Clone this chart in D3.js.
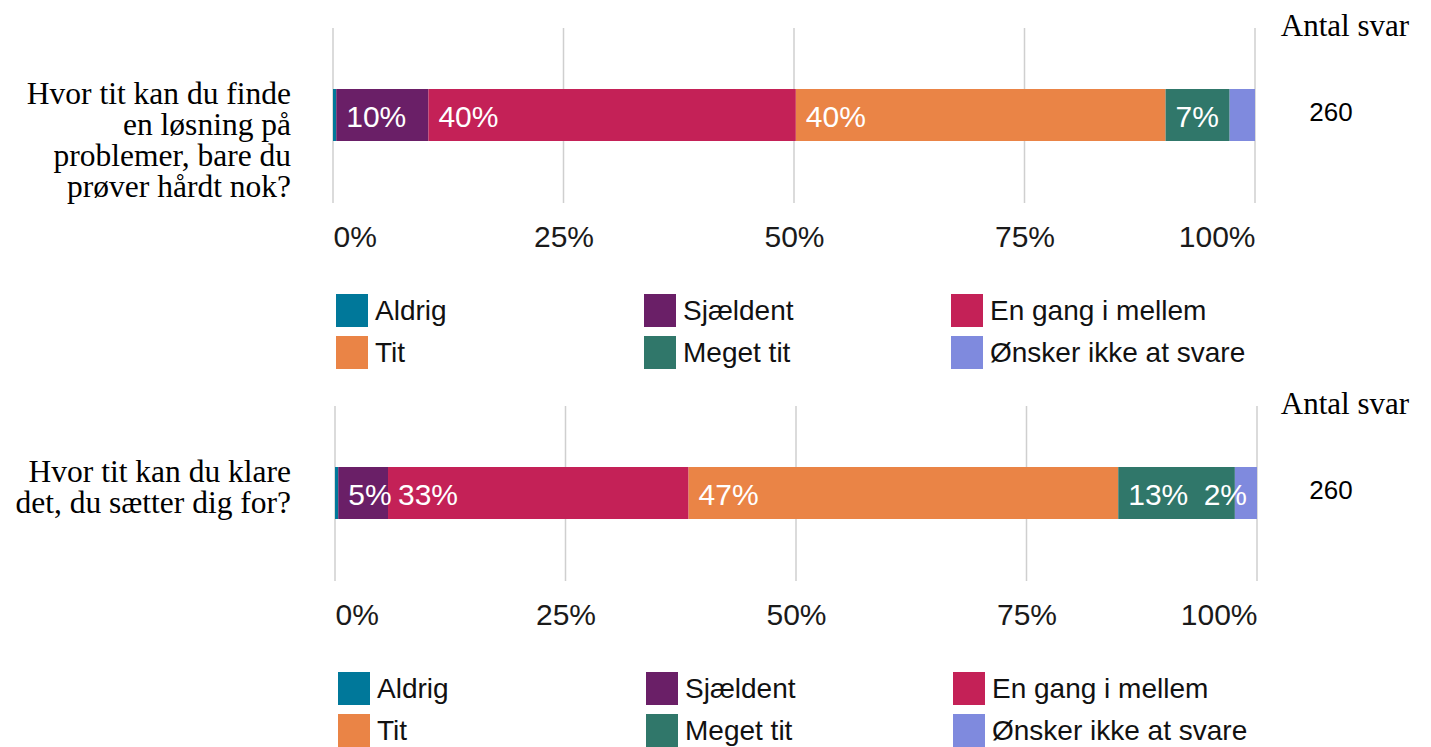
<!DOCTYPE html>
<html>
<head>
<meta charset="utf-8">
<script src="https://cdn.jsdelivr.net/npm/d3@7"></script>
<style>
  html, body { margin: 0; padding: 0; background: #fff; }
  svg { display: block; }
</style>
</head>
<body>
<svg id="chart" width="1431" height="747"></svg>
<script>
// ---- data ----
const categories = ["Aldrig", "Sjældent", "En gang i mellem", "Tit", "Meget tit", "Ønsker ikke at svare"];
const colors = ["#00789a", "#6a1f67", "#c42157", "#ea8446", "#30776a", "#7f8ade"];
const questions = [
  ["Hvor tit kan du finde", "en løsning på", "problemer, bare du", "prøver hårdt nok?"],
  ["Hvor tit kan du klare", "det, du sætter dig for?"]
];
const values1 = [0.35, 10.0, 39.85, 40.1, 6.95, 2.75];
const values2 = [0.35, 5.4, 32.6, 46.6, 12.65, 2.4];
const labels1 = ["", "10%", "40%", "40%", "7%", ""];
const labels2 = ["", "5%", "33%", "47%", "13%", "2%"];
const counts = [260, 260];
const tickValues = [0, 25, 50, 75, 100];
const tickLabels = ["0%", "25%", "50%", "75%", "100%"];
const countHeader = "Antal svar";

const seriesValues = [values1, values2];
const seriesLabels = [labels1, labels2];

// ---- layout ----
const svg = d3.select("#chart");
const SANS = "'Liberation Sans', Arial, sans-serif";
const SERIF = "'Liberation Serif', 'Times New Roman', serif";
const panels = [
  { dy: 0, x0: 333, x1: 1255 },
  { dy: 378, x0: 335, x1: 1257 }
];

panels.forEach((p, i) => {
  const g = svg.append("g").attr("transform", `translate(0,${p.dy})`);
  const x = d3.scaleLinear().domain([0, 100]).range([p.x0, p.x1]);
  const barY = 89, barH = 52;

  // gridlines
  g.selectAll("line.grid").data(tickValues).enter().append("line")
    .attr("x1", d => x(d)).attr("x2", d => x(d))
    .attr("y1", 28).attr("y2", 203)
    .attr("stroke", "#cfcfcf").attr("stroke-width", 1.5);

  // tick labels (axis)
  const axis = d3.axisBottom(x).tickValues(tickValues)
    .tickFormat((d, k) => tickLabels[k]).tickSize(0);
  const ax = g.append("g").attr("transform", "translate(0,247)").call(axis);
  ax.select(".domain").remove();
  ax.selectAll("text")
    .attr("y", 0).attr("dy", 0)
    .attr("font-family", SANS).attr("font-size", 30).attr("fill", "#1a1a1a")
    .attr("text-anchor", (d, k) => k === 0 ? "start" : (k === tickValues.length - 1 ? "end" : "middle"));

  // stacked segments
  const vals = seriesValues[i];
  const stack = [];
  let acc = 0;
  vals.forEach((v, k) => { stack.push({ k, start: acc, end: acc + v, v }); acc += v; });

  g.selectAll("rect.seg").data(stack).enter().append("rect")
    .attr("x", d => x(d.start))
    .attr("width", d => Math.max(0, x(d.end) - x(d.start)))
    .attr("y", barY).attr("height", barH)
    .attr("fill", d => colors[d.k]);

  const barEnd = x(acc);
  g.selectAll("text.seglab").data(stack.filter(d => seriesLabels[i][d.k])).enter().append("text")
    .attr("font-family", SANS).attr("font-size", 30).attr("fill", "#fff")
    .attr("y", barY + barH / 2 + 12)
    .text(d => seriesLabels[i][d.k])
    .each(function(d) {
      const w = this.getComputedTextLength();
      const xs = Math.min(x(d.start) + 10, barEnd - 10 - w);
      d3.select(this).attr("x", xs);
    });

  // question text
  const q = g.append("text")
    .attr("font-family", SERIF).attr("font-size", 31.5).attr("fill", "#000")
    .attr("text-anchor", "end");
  questions[i].forEach((line, k) => {
    q.append("tspan").attr("x", 291).attr("y", 104 + k * 31).text(line);
  });

  // count column
  g.append("text").attr("x", 1345).attr("y", 36)
    .attr("font-family", SERIF).attr("font-size", 31).attr("text-anchor", "middle")
    .text(countHeader);
  g.append("text").attr("x", 1331).attr("y", 121)
    .attr("font-family", SANS).attr("font-size", 26).attr("text-anchor", "middle")
    .text(counts[i]);

  // legend
  const colX = [p.x0 + 3, p.x0 + 311, p.x0 + 618];
  const rowY = [294, 336];
  const leg = g.selectAll("g.leg").data(categories).enter().append("g")
    .attr("transform", (d, k) => `translate(${colX[k % 3]},${rowY[Math.floor(k / 3)]})`);
  leg.append("rect").attr("width", 32).attr("height", 33).attr("fill", (d, k) => colors[k]);
  leg.append("text").attr("x", 39).attr("y", 26)
    .attr("font-family", SANS).attr("font-size", 28).attr("fill", "#111")
    .text(d => d);
});
</script>
</body>
</html>
